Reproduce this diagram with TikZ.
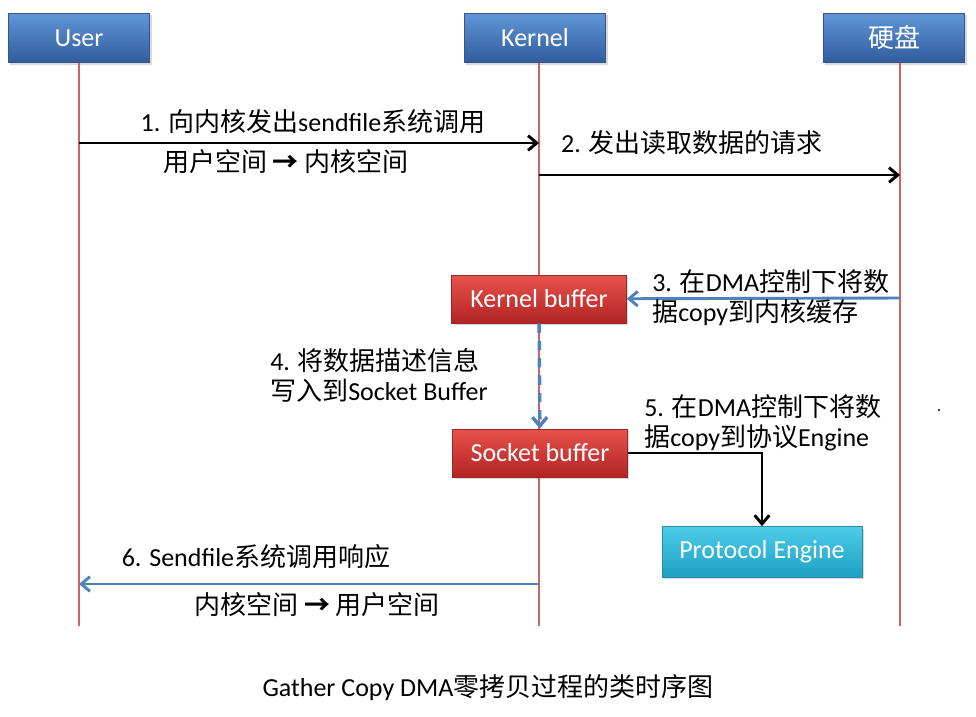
\documentclass[tikz,border=0pt]{standalone}
\usepackage{fontspec}
\setmainfont{Carlito}
\newfontfamily\cjk{Noto Sans CJK SC}
\usetikzlibrary{positioning, arrows.meta, shadows}
\definecolor{HeadBlue}{RGB}{96,150,216}
\definecolor{HeadBlueDark}{RGB}{48,92,156}
\definecolor{HeadBorder}{RGB}{52,86,138}
\definecolor{BufRed}{RGB}{232,82,76}
\definecolor{BufRedDark}{RGB}{178,36,36}
\definecolor{BufBorder}{RGB}{150,40,40}
\definecolor{EngCyan}{RGB}{76,204,232}
\definecolor{EngCyanDark}{RGB}{30,160,196}
\definecolor{EngBorder}{RGB}{40,140,170}
\definecolor{LifeRed}{RGB}{208,98,98}
\definecolor{MsgBlue}{RGB}{79,129,189}

\begin{document}
\begin{tikzpicture}[
        x=0.75pt, y=-0.75pt,
        head/.style={
            rectangle,
            draw=HeadBorder,
            line width=0.7pt,
            top color=HeadBlue,
            bottom color=HeadBlueDark,
            minimum width=106pt,
            minimum height=37pt,
            text=white,
            font=\fontsize{19.5}{22}\selectfont,
            drop shadow={opacity=0.3, shadow xshift=1.5pt, shadow yshift=-1.5pt}
        },
        buf/.style={
            head,
            draw=BufBorder,
            top color=BufRed,
            bottom color=BufRedDark,
            minimum width=131pt,
            minimum height=36pt
        },
        engine/.style={
            head,
            draw=EngBorder,
            top color=EngCyan,
            bottom color=EngCyanDark,
            minimum width=150pt,
            minimum height=38pt
        },
        lbl/.style={font=\fontsize{19.5}{22.5}\selectfont, inner sep=0pt},
        life/.style={LifeRed, line width=2.2pt},
        msg/.style={-{Straight Barb[length=6.5pt, width=11pt]}, line width=2.2pt},
        bluemsg/.style={msg, MsgBlue},
        dashmsg/.style={bluemsg, line width=2.6pt, dash pattern=on 7pt off 6pt}
    ]
    \useasboundingbox (0,0) rectangle (976,717);

    % Cabeceras
    \node[head] (user) at (79,38) {User};
    \node[head] (kernel) at (535,38) {Kernel};
    \node[head] (disk) at (894,38) {{\cjk 硬盘}};

    % Lineas de vida
    \coordinate (userend) at (79,626);
    \coordinate (kernelend) at (539,626);
    \coordinate (diskend) at (900,626);
    \draw[life] (79,63) -- (userend);
    \draw[life] (539,63) -- (kernelend);
    \draw[life] (900,63) -- (diskend);

    % Buffers y motor
    \node[buf] (kbuf) at (539,299) {Kernel buffer};
    \node[buf] (sbuf) at (540,453) {Socket buffer};
    \node[engine] (proto) at (762,552) {Protocol Engine};

    % Puntos de los mensajes
    \coordinate (u1) at (79,143);
    \coordinate (k1) at (539,143);
    \coordinate (k2) at (539,175);
    \coordinate (d2) at (900,175);
    \coordinate (d3) at (900,298);
    \coordinate (k6) at (539,584);
    \coordinate (u6) at (79,584);

    % Flechas
    \draw[msg] (u1) -- (k1);
    \draw[msg] (k2) -- (d2);
    \draw[bluemsg] (d3) -- (kbuf);
    \draw[dashmsg] (kbuf) -- (sbuf);
    \draw[msg] (sbuf.east) -| (proto);
    \draw[bluemsg] (k6) -- (u6);

    % Etiquetas
    \node[lbl] (l1) at (313,122) {1. {\cjk 向内核发出}sendfile{\cjk 系统调用}};
    \node[lbl] (l1b) at (286,162) {{\cjk 用户空间 \textbf{→} 内核空间}};
    \node[lbl] (l2) at (692,143) {2. {\cjk 发出读取数据的请求}};
    \node[lbl, anchor=west, align=left] (l3) at (652,298)
        {3. {\cjk 在}DMA{\cjk 控制下将数}\\{\cjk 据}copy{\cjk 到内核缓存}};
    \node[lbl, anchor=west, align=left] (l4) at (270,375)
        {4. {\cjk 将数据描述信息}\\{\cjk 写入到}Socket Buffer};
    \node[lbl, anchor=west, align=left] (l5) at (644,423)
        {5. {\cjk 在}DMA{\cjk 控制下将数}\\{\cjk 据}copy{\cjk 到协议}Engine};
    \node[lbl] (l6) at (256,557) {6. Sendfile{\cjk 系统调用响应}};
    \node[lbl] (l6b) at (317,605) {{\cjk 内核空间 \textbf{→} 用户空间}};

    % Titulo
    \node[lbl] (title) at (488,688)
        {Gather Copy DMA{\cjk 零拷贝过程的类时序图}};
    \fill (939,410) circle (0.8pt);
\end{tikzpicture}
\end{document}
